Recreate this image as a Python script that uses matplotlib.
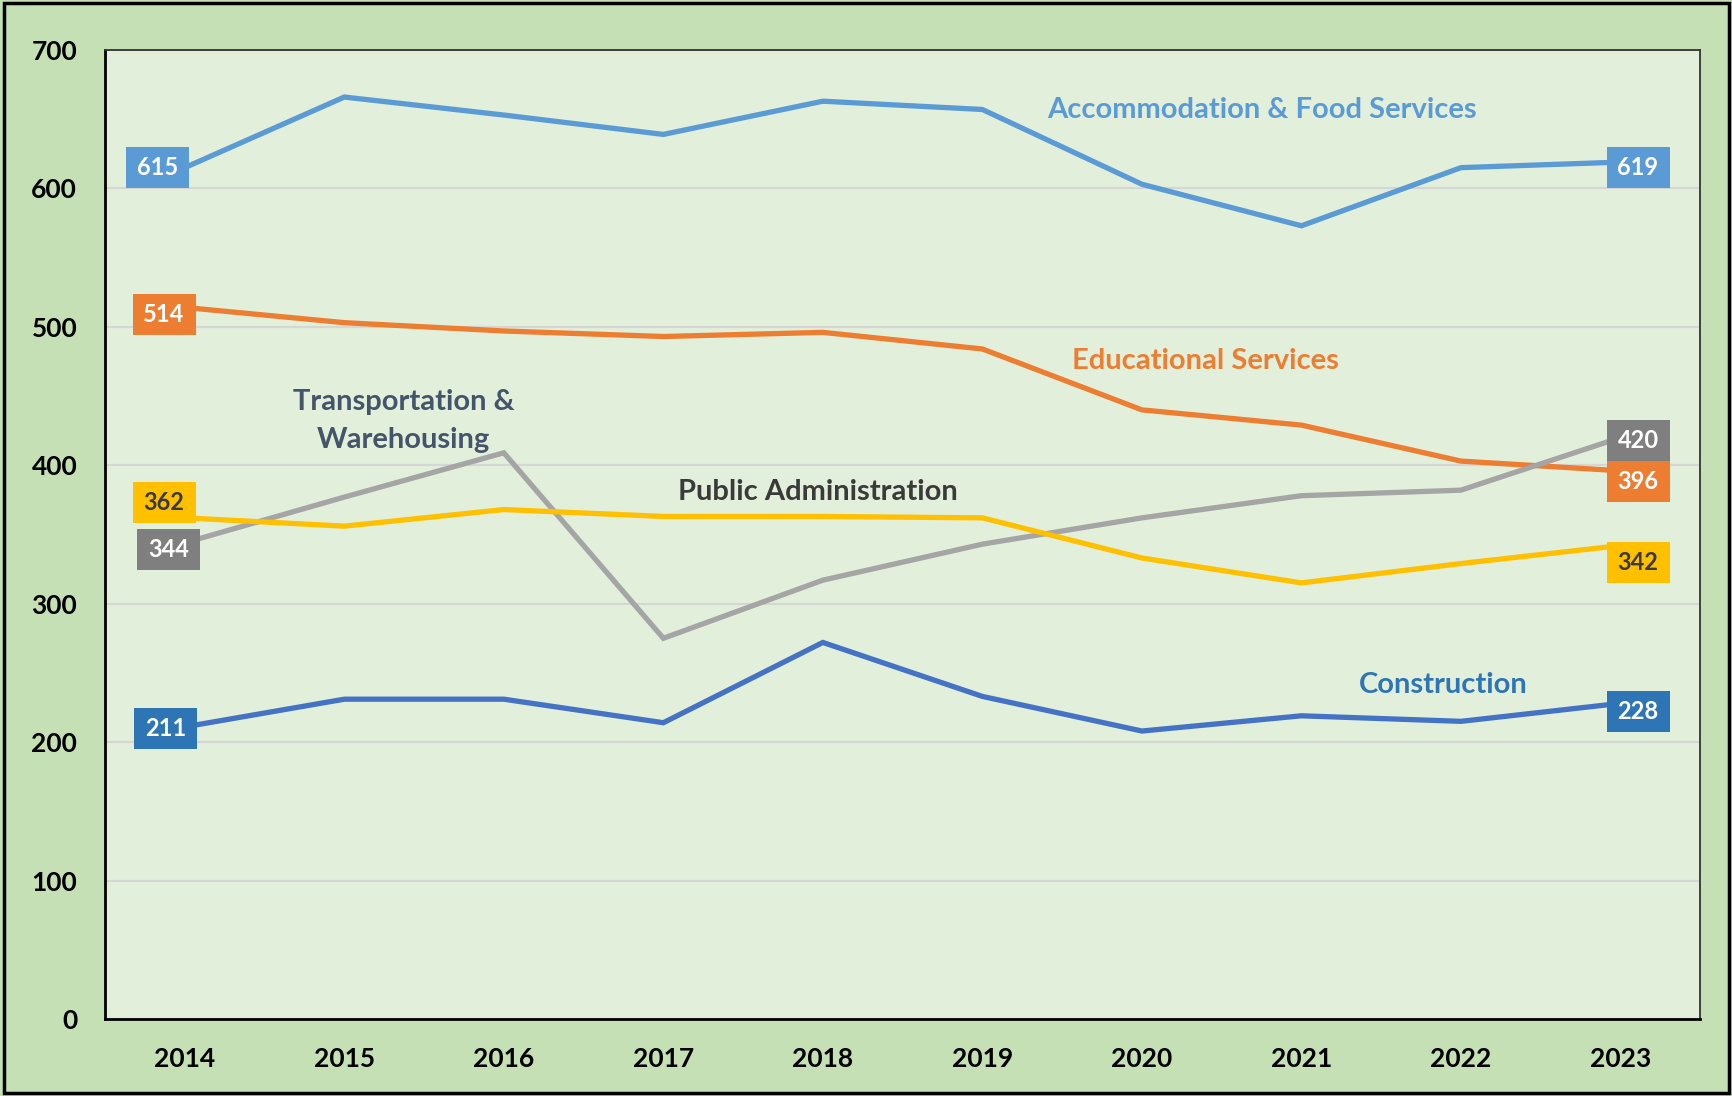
import matplotlib
matplotlib.use("Agg")
import matplotlib.pyplot as plt
from matplotlib.patches import Rectangle
from matplotlib.transforms import ScaledTranslation

plt.rcParams['font.family'] = ['Lato', 'DejaVu Sans']

years = ["2014", "2015", "2016", "2017", "2018", "2019", "2020", "2021", "2022", "2023"]
accommodation = [615, 666, 653, 639, 663, 657, 603, 573, 615, 619]
educational = [514, 503, 497, 493, 496, 484, 440, 429, 403, 396]
transportation = [344, 377, 409, 275, 317, 343, 362, 378, 382, 420]
public_admin = [362, 356, 368, 363, 363, 362, 333, 315, 329, 342]
construction = [211, 231, 231, 214, 272, 233, 208, 219, 215, 228]

series = [
    ("Accommodation & Food Services", accommodation, "#5B9BD5", "#5B9BD5", "white"),
    ("Educational Services", educational, "#ED7D31", "#ED7D31", "white"),
    ("Transportation & Warehousing", transportation, "#A5A5A5", "#7F7F7F", "white"),
    ("Public Administration", public_admin, "#FFC000", "#FFC000", "#3A3A3A"),
    ("Construction", construction, "#4472C4", "#2E75B6", "white"),
]

# label box offsets (in category units, value units) for first / last points
first_off = {"Accommodation & Food Services": (-0.17, 0),
             "Educational Services": (-0.13, -5),
             "Transportation & Warehousing": (-0.10, -5),
             "Public Administration": (-0.13, 11),
             "Construction": (-0.12, -1)}
last_off = {"Accommodation & Food Services": (0.11, -4),
            "Educational Services": (0.11, -8),
            "Transportation & Warehousing": (0.11, -2),
            "Public Administration": (0.11, -12),
            "Construction": (0.11, -6)}

fig = plt.figure(figsize=(17.33, 10.96), dpi=100)
fig.patch.set_facecolor("#C5E0B4")
ax = fig.add_axes([0.0606, 0.0703, 0.9205, 0.8841])
ax.set_facecolor("#E2EFDA")

x = list(range(len(years)))
for name, vals, lc, bc, tc in series:
    ax.plot(x, vals, color=lc, lw=3.8, solid_joinstyle='miter', zorder=3)

ax.set_xlim(-0.5, len(years) - 0.5)
ax.set_ylim(0, 700)
ax.set_yticks(range(0, 701, 100))
ax.set_xticks(x)
ax.set_xticklabels(years)
ax.grid(axis='y', color="#D6D6D6", lw=1.5, zorder=1)
ax.set_axisbelow(True)
ax.tick_params(axis='both', length=0, labelsize=19)
ax.tick_params(axis='y', pad=20)
ax.tick_params(axis='x', pad=20.5)
for lab in ax.get_xticklabels() + ax.get_yticklabels():
    lab.set_fontweight('bold')
for s in ['left', 'bottom']:
    ax.spines[s].set_linewidth(2.0)
    ax.spines[s].set_color('black')
for s in ['top', 'right']:
    ax.spines[s].set_linewidth(1.3)
    ax.spines[s].set_color('#333333')

# data label boxes
bw, bh = 0.63, 0.41  # inches
for name, vals, lc, bc, tc in series:
    for idx, off in ((0, first_off[name]), (len(vals) - 1, last_off[name])):
        cx, cy = idx + off[0], vals[idx] + off[1]
        tr = fig.dpi_scale_trans + ScaledTranslation(cx, cy, ax.transData)
        ax.add_patch(Rectangle((-bw / 2, -bh / 2), bw, bh, transform=tr,
                               facecolor=bc, edgecolor='none', zorder=5, clip_on=False))
        ax.text(cx, cy, str(vals[idx]), color=tc, fontsize=17, fontweight='bold',
                ha='center', va='center', zorder=6)

# series name annotations
fs = 21
ax.text(6.75, 657, "Accommodation & Food Services", color="#5B9BD5", fontsize=fs,
        fontweight='bold', ha='center', va='center')
ax.text(6.40, 475, "Educational Services", color="#ED7D31", fontsize=fs,
        fontweight='bold', ha='center', va='center')
ax.text(1.37, 432, "Transportation &\nWarehousing", color="#44546A", fontsize=fs,
        fontweight='bold', ha='center', va='center', linespacing=1.55)
ax.text(3.97, 381, "Public Administration", color="#3A3A3A", fontsize=fs,
        fontweight='bold', ha='center', va='center')
ax.text(7.89, 241, "Construction", color="#2E75B6", fontsize=fs,
        fontweight='bold', ha='center', va='center')

# outer border
fig.add_artist(Rectangle((0.0025, 0.003), 0.9950, 0.994, transform=fig.transFigure,
                         facecolor='none', edgecolor='black', lw=2.5))

fig.savefig("out.png", dpi=100, facecolor=fig.get_facecolor())
